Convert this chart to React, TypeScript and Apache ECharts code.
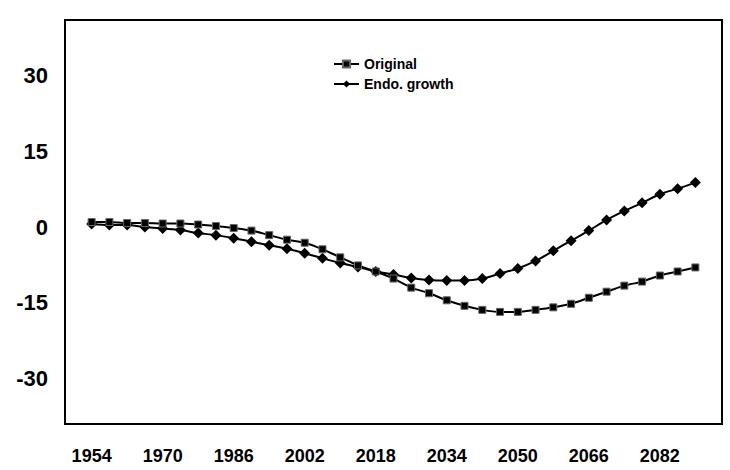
import React, { useEffect, useRef } from "react";
import * as echarts from "echarts";

const years: number[] = [
  1954, 1958, 1962, 1966, 1970, 1974, 1978, 1982, 1986, 1990, 1994, 1998,
  2002, 2006, 2010, 2014, 2018, 2022, 2026, 2030, 2034, 2038, 2042, 2046,
  2050, 2054, 2058, 2062, 2066, 2070, 2074, 2078, 2082, 2086, 2090,
];

const original: number[] = [
  1.0, 1.0, 0.8, 0.8, 0.7, 0.7, 0.5, 0.2, -0.2, -0.7, -1.6, -2.5,
  -3.1, -4.4, -6.0, -7.6, -8.8, -10.2, -12.0, -13.1, -14.5, -15.6, -16.4, -16.8,
  -16.8, -16.4, -15.9, -15.2, -14.0, -12.8, -11.6, -10.8, -9.6, -8.8, -8.0,
];

const endoGrowth: number[] = [
  0.6, 0.4, 0.4, 0.0, -0.3, -0.6, -1.2, -1.6, -2.2, -2.9, -3.6, -4.3,
  -5.2, -6.2, -7.1, -7.9, -8.8, -9.4, -10.1, -10.5, -10.6, -10.6, -10.2, -9.2,
  -8.2, -6.7, -4.7, -2.7, -0.7, 1.4, 3.2, 4.8, 6.5, 7.6, 8.8,
];

const xTickLabels: number[] = [1954, 1970, 1986, 2002, 2018, 2034, 2050, 2066, 2082];
const yTickLabels: number[] = [-30, -15, 0, 15, 30];

const FONT = "'Liberation Sans', Arial, sans-serif";

export default function App() {
  const ref = useRef<HTMLDivElement>(null);

  useEffect(() => {
    if (!ref.current) return;
    const chart = echarts.init(ref.current, null, { renderer: "svg" });
    chart.setOption({
      animation: false,
      backgroundColor: "#fff",
      grid: {
        left: 65,
        top: 20,
        right: 8,
        bottom: 46,
        show: true,
        borderColor: "#000",
        borderWidth: 2,
        backgroundColor: "#fff",
      },
      legend: {
        left: 328,
        top: 52,
        orient: "vertical",
        itemWidth: 25,
        itemHeight: 9,
        itemGap: 6,
        textStyle: { fontFamily: FONT, fontWeight: "bold", fontSize: 14, color: "#000" },
        data: ["Original", "Endo. growth"],
      },
      xAxis: {
        type: "value",
        min: 1948,
        max: 2096,
        interval: 2,
        axisLine: { show: false },
        axisTick: { show: false },
        splitLine: { show: false },
        axisLabel: {
          margin: 23,
          fontFamily: FONT,
          fontWeight: "bold",
          fontSize: 18,
          color: "#000",
          formatter: (v: number) => (xTickLabels.includes(v) ? String(v) : ""),
        },
      },
      yAxis: {
        type: "value",
        min: -39,
        max: 41,
        interval: 1,
        axisLine: { show: false },
        axisTick: { show: false },
        splitLine: { show: false },
        axisLabel: {
          margin: 17,
          fontFamily: FONT,
          fontWeight: "bold",
          fontSize: 22,
          color: "#000",
          formatter: (v: number) => (yTickLabels.includes(v) ? String(v) : ""),
        },
      },
      series: [
        {
          name: "Original",
          type: "line",
          data: years.map((y, i) => [y, original[i]]),
          smooth: 0.3,
          symbol: "rect",
          symbolSize: 7,
          lineStyle: { color: "#000", width: 2 },
          itemStyle: { color: "#000", borderColor: "#666", borderWidth: 1 },
          z: 3,
        },
        {
          name: "Endo. growth",
          type: "line",
          data: years.map((y, i) => [y, endoGrowth[i]]),
          smooth: 0.3,
          symbol: "diamond",
          symbolSize: 11,
          lineStyle: { color: "#000", width: 2 },
          itemStyle: { color: "#000" },
          z: 2,
        },
      ],
    });
    return () => chart.dispose();
  }, []);

  return (
    <div
      ref={ref}
      style={{ position: "fixed", left: 0, top: 0, width: 730, height: 470, background: "#fff" }}
    />
  );
}
